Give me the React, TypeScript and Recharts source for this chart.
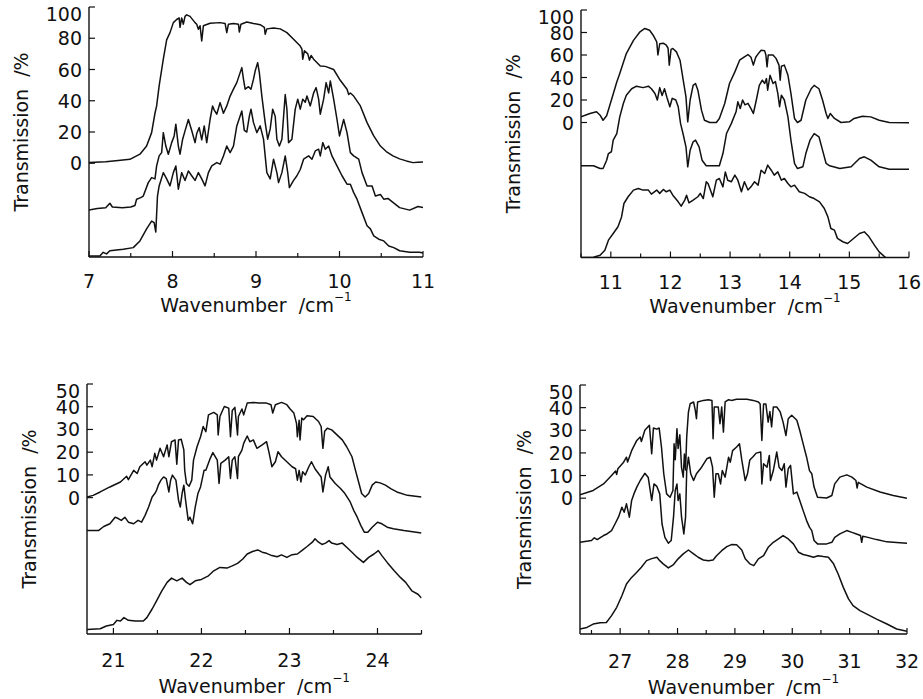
import React from "react";
import { LineChart, Line, XAxis, YAxis, Label } from "recharts";

type Pt = [number, number];

// ---- panel 1 (7-11 cm-1) ----
const p1XTicks = [7, 7.5, 8, 8.5, 9, 9.5, 10, 10.5, 11];
const p1YTicks = [0, 20, 40, 60, 80, 100];
const p1Top: Pt[] = [
  [7.0, 0.5], [7.2, 1], [7.35, 1.8], [7.49, 2.5], [7.61, 5.8], [7.69, 11], [7.75, 19.6], [7.79, 32], [7.81, 36.7],
  [7.84, 49.5], [7.89, 66.6], [7.93, 79], [7.97, 83.6], [8.01, 90], [8.05, 92], [8.08, 93], [8.09, 87], [8.11, 93],
  [8.13, 89], [8.15, 94], [8.17, 95], [8.21, 94], [8.27, 90], [8.29, 89], [8.31, 85.8], [8.33, 88], [8.35, 78.3],
  [8.37, 88], [8.45, 89.6], [8.57, 90], [8.63, 89.5], [8.65, 83.6], [8.67, 89], [8.73, 89.5], [8.79, 89], [8.8, 84],
  [8.82, 89], [8.89, 90.4], [8.97, 89.5], [9.05, 88.7], [9.1, 87], [9.11, 82.6], [9.13, 86], [9.21, 86.6], [9.29, 86],
  [9.37, 83.6], [9.45, 79.4], [9.53, 75], [9.55, 73], [9.56, 66.6], [9.58, 72], [9.62, 70], [9.64, 66], [9.66, 69],
  [9.69, 66.6], [9.77, 62.3], [9.83, 62], [9.93, 60], [10.0, 53.8], [10.09, 47.4], [10.11, 44], [10.13, 45],
  [10.17, 43], [10.25, 36.7], [10.33, 26], [10.41, 17.5], [10.49, 11], [10.56, 7.5], [10.64, 4.7], [10.72, 2.8],
  [10.8, 1.5], [10.88, 0.4], [10.94, 0.6], [11.0, 0.8],
];
const p1Mid: Pt[] = [
  [7.0, -30], [7.1, -29], [7.2, -28.5], [7.25, -25.6], [7.28, -28], [7.4, -28.5], [7.5, -28], [7.55, -27], [7.57, -23],
  [7.62, -22], [7.65, -21], [7.71, -12.4], [7.75, -9.2], [7.79, -10], [7.81, -1.7], [7.84, 4.7], [7.87, 6.8],
  [7.89, 19.6], [7.92, 11], [7.95, 5.8], [7.99, 13.2], [8.02, 17.5], [8.04, 25], [8.07, 11], [8.09, 5.8], [8.12, 15],
  [8.15, 20.7], [8.19, 28], [8.23, 21], [8.27, 13.2], [8.29, 19], [8.32, 22.8], [8.35, 15], [8.38, 23.9], [8.41, 13.2],
  [8.45, 28], [8.48, 36.7], [8.5, 34], [8.53, 31.4], [8.57, 38.8], [8.61, 32], [8.65, 36.7], [8.69, 43], [8.73, 47.4],
  [8.77, 51.6], [8.81, 58], [8.83, 61.2], [8.85, 53.8], [8.87, 47.4], [8.91, 49], [8.94, 47.4], [8.97, 53.8], [8.99, 59],
  [9.02, 64.4], [9.04, 58], [9.07, 43], [9.11, 26], [9.14, 15.4], [9.17, 22], [9.2, 34.6], [9.23, 30], [9.25, 15.4],
  [9.28, 11], [9.31, 15.4], [9.35, 44], [9.37, 34.6], [9.39, 13.2], [9.43, 15.4], [9.47, 34.6], [9.5, 41], [9.53, 34.6],
  [9.56, 41], [9.59, 39], [9.61, 43], [9.65, 36.7], [9.69, 45], [9.72, 48.4], [9.75, 41], [9.77, 31.4], [9.81, 41],
  [9.84, 51.6], [9.87, 45], [9.89, 52.7], [9.93, 41], [9.97, 28], [10.0, 17.5], [10.05, 28], [10.09, 19.6],
  [10.13, 6.8], [10.17, 4.7], [10.23, 2.6], [10.27, -6], [10.33, -14.5], [10.39, -14.5], [10.43, -21], [10.49, -20],
  [10.53, -23], [10.58, -22.5], [10.64, -25], [10.72, -28.4], [10.84, -30], [10.94, -27.7], [11.0, -28.4],
];
const p1Low: Pt[] = [
  [7.0, -59.3], [7.13, -59.3], [7.17, -57], [7.21, -58], [7.25, -56], [7.41, -55], [7.53, -54], [7.61, -49.7],
  [7.69, -42], [7.75, -37], [7.78, -38], [7.8, -44], [7.82, -21], [7.84, -14.5], [7.89, -6], [7.93, -10], [7.97, -14.5],
  [8.01, -6], [8.04, -1.7], [8.07, -16.6], [8.11, -6], [8.15, -11], [8.19, -4.9], [8.23, -8], [8.27, -11], [8.31, -6],
  [8.35, -10], [8.39, -14.5], [8.43, -6], [8.47, -1.7], [8.53, 0.4], [8.57, -0.6], [8.61, 4.7], [8.65, 11], [8.69, 6.8],
  [8.73, 11], [8.77, 23.9], [8.81, 30.3], [8.83, 33.5], [8.86, 21], [8.89, 20], [8.92, 30], [8.94, 34.6], [8.97, 26],
  [9.01, 19.6], [9.05, 23.9], [9.09, 15.4], [9.13, -6], [9.17, -10], [9.21, 2.6], [9.25, -6], [9.27, -12.4], [9.31, -6],
  [9.35, 4.7], [9.38, -6], [9.4, -15.6], [9.45, -11], [9.49, -8], [9.53, -4], [9.57, 2.6], [9.63, 4.7], [9.67, 2.6],
  [9.71, 7.9], [9.75, 9], [9.77, 4.7], [9.8, 13.2], [9.83, 9], [9.87, 11], [9.91, 4.7], [9.97, -1.7], [10.03, -8],
  [10.09, -13.4], [10.13, -13.4], [10.17, -18.8], [10.21, -23], [10.27, -31.6], [10.33, -40], [10.37, -42],
  [10.41, -46.5], [10.47, -48.6], [10.53, -49.7], [10.59, -53], [10.65, -54], [10.72, -56], [10.84, -57], [10.96, -57],
  [11.0, -57.5],
];

// ---- panel 2 (10.5-16 cm-1) ----
const p2XTicks = [10.5, 11, 11.5, 12, 12.5, 13, 13.5, 14, 14.5, 15, 15.5, 16];
const p2YTicks = [0, 20, 40, 60, 80, 100];
const p2Top: Pt[] = [
  [10.5, 5], [10.65, 8], [10.76, 9.5], [10.82, 6.5], [10.87, 2], [10.93, 6], [11.01, 20], [11.1, 36], [11.15, 43.6],
  [11.26, 61.3], [11.38, 73], [11.49, 80.6], [11.57, 83.6], [11.65, 82], [11.71, 77.6], [11.77, 71.7], [11.79, 60],
  [11.82, 70], [11.88, 70.5], [11.93, 68.7], [11.96, 66], [11.98, 51], [12.01, 65], [12.04, 65.8], [12.1, 62.8],
  [12.16, 55.4], [12.18, 49], [12.21, 39], [12.26, 22.8], [12.29, 0.6], [12.33, 20], [12.38, 33], [12.42, 34.7],
  [12.46, 28.7], [12.52, 11], [12.57, 2], [12.66, 0], [12.77, 0], [12.82, 3.6], [12.91, 16.9], [12.99, 34.7],
  [13.08, 45], [13.16, 55.4], [13.24, 58.4], [13.3, 60.4], [13.35, 58], [13.39, 51], [13.43, 58], [13.47, 61],
  [13.52, 64.3], [13.58, 63.7], [13.6, 60], [13.62, 49.5], [13.64, 60], [13.72, 60], [13.77, 57], [13.82, 51],
  [13.84, 37.6], [13.86, 50], [13.91, 51], [13.97, 42], [14.02, 25.8], [14.08, 3.6], [14.13, 0], [14.19, 2], [14.27, 20],
  [14.36, 30], [14.41, 33], [14.49, 30], [14.55, 20], [14.61, 8], [14.64, 3.6], [14.68, 8], [14.75, 3.6], [14.86, 0],
  [15.0, 0.6], [15.08, 3.6], [15.22, 5.6], [15.36, 5], [15.5, 2], [15.67, 0], [16.0, -0.3],
];
const p2Mid: Pt[] = [
  [10.5, -38.5], [10.71, -38.5], [10.82, -40.9], [10.87, -40.9], [10.93, -33.5], [10.96, -27.6], [11.01, -26],
  [11.04, -15.7], [11.1, -9.8], [11.15, 5], [11.21, 16.9], [11.26, 24.3], [11.35, 30], [11.43, 32.3], [11.54, 31],
  [11.63, 32.3], [11.68, 30], [11.74, 25.8], [11.78, 20], [11.82, 31], [11.86, 24], [11.9, 30], [11.94, 22.5],
  [11.99, 14], [12.03, 21.5], [12.09, 20], [12.13, 14], [12.17, -1], [12.21, -9.8], [12.26, -21.6], [12.29, -39.4],
  [12.33, -24.6], [12.38, -17.2], [12.42, -15.7], [12.48, -21.6], [12.53, -33.5], [12.6, -38.5], [12.82, -38.5],
  [12.88, -27.6], [12.94, -9.8], [13.02, -1], [13.1, 9.5], [13.13, 18.4], [13.17, 12.4], [13.21, 20], [13.25, 15.7],
  [13.3, 17], [13.35, 12.4], [13.39, 8], [13.44, 20], [13.49, 33], [13.54, 37.6], [13.58, 34.7], [13.61, 39],
  [13.63, 28.7], [13.67, 42], [13.72, 34.7], [13.76, 36.4], [13.8, 25.8], [13.83, 14], [13.86, 24.3], [13.91, 20],
  [13.97, 5], [14.02, -15.7], [14.08, -36.4], [14.13, -40.9], [14.22, -39.4], [14.27, -27.6], [14.34, -15.7],
  [14.41, -9.8], [14.49, -12.7], [14.55, -24.6], [14.61, -36.4], [14.67, -38.5], [14.84, -40.9], [15.03, -39.4],
  [15.17, -32], [15.25, -30.5], [15.36, -33.5], [15.5, -39.4], [15.67, -41.5], [16.0, -41.5],
];
const p2Low: Pt[] = [
  [10.5, -120], [10.71, -119.8], [10.82, -118], [10.9, -113.5], [10.96, -104.6], [11.04, -98.7], [11.12, -92.7],
  [11.18, -83.9], [11.22, -72], [11.29, -66], [11.38, -60.1], [11.46, -58.7], [11.54, -60.1], [11.63, -60.1],
  [11.68, -63.7], [11.77, -60.1], [11.82, -63], [11.88, -59.5], [11.93, -61.6], [11.99, -60.1], [12.04, -64.6],
  [12.13, -70.5], [12.18, -74.4], [12.24, -69], [12.27, -64.6], [12.31, -71.4], [12.38, -69], [12.46, -66], [12.5, -63],
  [12.55, -67.6], [12.6, -52.7], [12.63, -54.2], [12.67, -60.1], [12.71, -66], [12.77, -51.3], [12.82, -49.8],
  [12.88, -57.2], [12.92, -43.9], [12.96, -51.3], [13.02, -52.7], [13.08, -46.8], [13.13, -51.3], [13.19, -61.6],
  [13.24, -52.7], [13.3, -60], [13.35, -57.2], [13.41, -52.7], [13.47, -55.7], [13.52, -42.4], [13.58, -45.3],
  [13.63, -37.9], [13.69, -42.4], [13.74, -46.8], [13.8, -43.9], [13.86, -51.3], [13.91, -49.8], [13.97, -54.2],
  [14.02, -57.2], [14.08, -55.7], [14.16, -61.6], [14.25, -63], [14.33, -66], [14.41, -67.6], [14.5, -70.5],
  [14.58, -76.4], [14.64, -83.9], [14.69, -94.2], [14.75, -95.7], [14.8, -103], [14.89, -106], [14.97, -107.6],
  [15.05, -104], [15.17, -98.7], [15.25, -97.2], [15.33, -101.6], [15.42, -109], [15.5, -115], [15.58, -118.8],
  [15.61, -120],
];

// ---- panel 3 (20.7-24.5 cm-1) ----
const p3XTicks = [21, 21.5, 22, 22.5, 23, 23.5, 24, 24.5];
const p3YTicks = [0, 10, 20, 30, 40, 50];
const p3Top: Pt[] = [
  [20.7, 0.3], [20.77, 1], [20.85, 2.5], [20.96, 4.7], [21.08, 6.9], [21.15, 9.4], [21.17, 7.9], [21.23, 12],
  [21.27, 10.6], [21.3, 13.6], [21.36, 15.8], [21.38, 14.3], [21.42, 16.5], [21.44, 13.6], [21.47, 19.5], [21.49, 16.5],
  [21.53, 21.7], [21.57, 18], [21.61, 23.2], [21.63, 18], [21.66, 24.6], [21.7, 25.4], [21.72, 14.7], [21.74, 25.4],
  [21.77, 25.7], [21.8, 21], [21.81, 12], [21.83, 6.2], [21.86, 5], [21.89, 7.7], [21.91, 16.5], [21.95, 22.4],
  [21.99, 26.8], [22.02, 31.3], [22.05, 29], [22.08, 36.4], [22.14, 37.5], [22.18, 36.4], [22.19, 27.6], [22.21, 35.7],
  [22.26, 40.1], [22.31, 39.4], [22.33, 26.8], [22.35, 38.3], [22.38, 39.7], [22.41, 27.6], [22.42, 35.7], [22.46, 39],
  [22.48, 36.4], [22.52, 41.6], [22.59, 41.9], [22.65, 41.6], [22.74, 41.6], [22.79, 40.9], [22.81, 37.2], [22.84, 40.9],
  [22.91, 41.9], [22.97, 40.9], [23.01, 38.9], [23.05, 37.2], [23.08, 32.7], [23.09, 26.8], [23.11, 34], [23.12, 25.4],
  [23.14, 35], [23.16, 34.3], [23.2, 36], [23.27, 35.7], [23.33, 33.5], [23.36, 31.3], [23.38, 21.7], [23.4, 29.2],
  [23.43, 30.5], [23.48, 29.8], [23.54, 27.6], [23.6, 25.4], [23.65, 22.4], [23.71, 18], [23.75, 12], [23.79, 6.2],
  [23.82, 1.8], [23.86, 0.3], [23.9, 1.8], [23.94, 5.5], [23.98, 6.9], [24.03, 6.5], [24.09, 5.5], [24.15, 4],
  [24.22, 2.5], [24.34, 1], [24.5, 0.3],
];
const p3Mid: Pt[] = [
  [20.7, -14.5], [20.83, -14.5], [20.89, -12.7], [20.96, -11.5], [21.02, -8.6], [21.06, -9.3], [21.09, -10],
  [21.13, -8.6], [21.17, -10.8], [21.23, -11.5], [21.28, -10], [21.32, -10.8], [21.36, -7.8], [21.4, -4.1], [21.44, 0.3],
  [21.47, 1.8], [21.49, 3.2], [21.51, 5.5], [21.54, 7.7], [21.57, 9.1], [21.6, 8.4], [21.63, 2.5], [21.65, 7.7],
  [21.67, 9.9], [21.71, 7.7], [21.74, -1.2], [21.76, -4.1], [21.78, 1.8], [21.8, 5.5], [21.82, -1.2], [21.85, -10],
  [21.87, -8.6], [21.9, -11.5], [21.93, -4.1], [21.96, 1.8], [21.99, 4.7], [22.03, 12], [22.05, 12], [22.1, 17.3],
  [22.13, 19.8], [22.18, 16.5], [22.2, 6.2], [22.22, 15.1], [22.27, 16.5], [22.31, 18], [22.33, 8.4], [22.35, 16.5],
  [22.38, 18], [22.41, 8.4], [22.42, 18], [22.46, 20.9], [22.48, 23.9], [22.52, 27.1], [22.55, 24.6], [22.59, 25.4],
  [22.63, 21.7], [22.69, 23.2], [22.74, 24.6], [22.77, 19.5], [22.8, 13.6], [22.84, 15.8], [22.87, 20.2], [22.91, 18],
  [22.97, 15.8], [23.03, 13.6], [23.07, 12.7], [23.09, 7.7], [23.11, 12], [23.13, 6.9], [23.15, 11.4], [23.18, 10],
  [23.22, 13.6], [23.25, 15.8], [23.29, 12.7], [23.33, 10.6], [23.36, 9.1], [23.38, 2.5], [23.41, 9.9], [23.44, 13.6],
  [23.46, 9.1], [23.52, 6.2], [23.58, 4], [23.63, 1.8], [23.69, -1.9], [23.73, -5.6], [23.77, -8.6], [23.81, -12.2],
  [23.85, -15.2], [23.89, -15.2], [23.94, -13], [24.0, -10.8], [24.05, -11.5], [24.11, -13], [24.18, -13.7],
  [24.3, -14.5], [24.5, -15.6],
];
const p3Low: Pt[] = [
  [20.7, -58], [20.85, -57.7], [20.92, -56.5], [21.0, -55.8], [21.04, -54], [21.08, -54.3], [21.12, -52.8], [21.17, -54],
  [21.25, -54.3], [21.34, -54.3], [21.38, -52.8], [21.44, -49], [21.49, -45.4], [21.55, -41], [21.61, -37.3],
  [21.66, -35.4], [21.72, -36.6], [21.78, -35.4], [21.83, -37.3], [21.87, -38.3], [21.93, -36.6], [22.0, -36],
  [22.08, -34.4], [22.14, -32.2], [22.21, -30.7], [22.29, -31], [22.35, -30], [22.41, -28.9], [22.47, -27],
  [22.52, -24.8], [22.58, -23.7], [22.64, -23], [22.69, -24], [22.74, -24.5], [22.8, -25.5], [22.86, -26],
  [22.91, -25.2], [22.97, -26.3], [23.03, -25.1], [23.09, -24.8], [23.14, -23.3], [23.2, -21.5], [23.26, -19.6],
  [23.29, -18.1], [23.33, -19.6], [23.37, -20.6], [23.41, -20], [23.45, -18.9], [23.48, -20], [23.54, -20.6],
  [23.6, -20], [23.65, -21.8], [23.71, -24], [23.77, -26.3], [23.84, -28.5], [23.9, -26.3], [23.96, -24.8],
  [24.01, -23.3], [24.05, -25.5], [24.11, -28.5], [24.19, -32.2], [24.26, -35.1], [24.32, -37.3], [24.39, -41],
  [24.46, -42.5], [24.5, -44.2],
];

// ---- panel 4 (26.3-32 cm-1) ----
const p4XTicks = [26.5, 27, 27.5, 28, 28.5, 29, 29.5, 30, 30.5, 31, 31.5, 32];
const p4YTicks = [0, 10, 20, 30, 40, 50];
const p4Top: Pt[] = [
  [26.3, 1.5], [26.53, 3.4], [26.71, 6.3], [26.85, 10], [26.92, 12], [26.94, 10.5], [26.96, 13], [27.06, 15.9],
  [27.11, 18.1], [27.13, 16], [27.2, 21], [27.29, 25.5], [27.35, 27], [27.37, 25], [27.43, 30], [27.51, 32.2],
  [27.55, 19.6], [27.58, 31], [27.64, 30.5], [27.68, 31], [27.72, 22.6], [27.76, 10.8], [27.81, 1.9], [27.87, 0.4],
  [27.92, 3.4], [27.94, 24], [27.96, 17], [27.99, 30.7], [28.01, 22], [28.04, 28], [28.07, 13.5], [28.1, 9.3],
  [28.12, 19.5], [28.14, 12.5], [28.16, 27], [28.19, 38], [28.22, 41.7], [28.28, 42.5], [28.31, 38.8], [28.33, 35.1],
  [28.35, 42.5], [28.45, 43.2], [28.54, 43.5], [28.6, 43.2], [28.62, 26.3], [28.64, 40.3], [28.71, 40.3], [28.74, 32.9],
  [28.77, 40.3], [28.8, 29.2], [28.83, 42.5], [28.89, 43.5], [28.94, 43.2], [29.03, 43.7], [29.21, 43.7], [29.32, 43.2],
  [29.41, 42.5], [29.44, 41.6], [29.47, 25.5], [29.5, 41.6], [29.54, 41.6], [29.58, 33.6], [29.61, 38.3], [29.64, 31.5],
  [29.67, 40.3], [29.73, 40.3], [29.79, 38.1], [29.84, 33.6], [29.89, 27.7], [29.93, 35.1], [29.99, 36.6], [30.08, 34.4],
  [30.13, 30], [30.19, 24], [30.25, 18.1], [30.3, 12.2], [30.34, 10.8], [30.38, 4.9], [30.44, 0.4], [30.6, 0.1],
  [30.69, 1.2], [30.74, 6.3], [30.83, 9.3], [30.95, 10.3], [31.04, 9.3], [31.11, 7.8], [31.13, 4.5], [31.15, 7],
  [31.3, 4.9], [31.53, 2.7], [31.76, 1.2], [32.0, 0],
];
const p4Mid: Pt[] = [
  [26.3, -19.5], [26.5, -18.7], [26.55, -17.5], [26.6, -18.3], [26.71, -16.5], [26.77, -15.8], [26.85, -14.3],
  [26.91, -11.4], [26.97, -8.4], [27.03, -4], [27.07, -6.2], [27.11, -2.5], [27.16, -8.4], [27.2, -1], [27.24, 1.9],
  [27.29, 4.9], [27.35, 7.8], [27.43, 11], [27.49, 9.1], [27.55, -1], [27.59, 6.3], [27.64, 5.2], [27.69, 1.9],
  [27.73, -11.4], [27.78, -17.3], [27.84, -19.9], [27.89, -18.7], [27.93, -8.4], [27.96, 3.4], [27.99, 6.3],
  [28.01, -1], [28.04, 1.9], [28.07, -8.4], [28.11, -15.8], [28.14, -8.4], [28.16, 12.2], [28.19, 18.1], [28.23, 10.8],
  [28.28, 7.8], [28.33, 10.8], [28.42, 13.7], [28.51, 17.4], [28.57, 18.1], [28.61, 13.7], [28.64, 0.4], [28.67, 10.8],
  [28.71, 10.8], [28.75, 6.3], [28.78, 12.2], [28.83, 9.3], [28.89, 18.1], [28.92, 15.9], [28.96, 21], [29.03, 22.6],
  [29.08, 24], [29.12, 16.9], [29.18, 7.8], [29.22, 10.8], [29.26, 16.9], [29.32, 18.4], [29.37, 19.9], [29.45, 20.4],
  [29.47, 6.3], [29.5, 15.2], [29.56, 13.7], [29.6, 18.9], [29.62, 7.8], [29.67, 12.2], [29.73, 20.4], [29.77, 13.7],
  [29.82, 12.2], [29.86, 15.2], [29.89, 4.9], [29.93, 13], [29.97, 14.5], [30.02, 1.9], [30.08, 2.7], [30.13, -1],
  [30.19, -5.5], [30.25, -9.9], [30.3, -12.8], [30.34, -14.3], [30.38, -18.7], [30.44, -20.2], [30.6, -20.2],
  [30.69, -19.5], [30.74, -17.3], [30.83, -15.8], [30.95, -14.3], [31.04, -15.1], [31.12, -15.8], [31.19, -16.5],
  [31.21, -19.5], [31.23, -16.8], [31.3, -17.2], [31.47, -18.3], [31.65, -19.3], [31.76, -19.5], [32.0, -19.9],
];
const p4Low: Pt[] = [
  [26.3, -57.8], [26.42, -57.1], [26.53, -55.6], [26.65, -55], [26.76, -54.9], [26.85, -51.9], [26.94, -48.2],
  [27.03, -43.1], [27.11, -37.9], [27.2, -35], [27.29, -32.7], [27.37, -30.5], [27.46, -27.6], [27.55, -26.7],
  [27.64, -26.1], [27.69, -27.6], [27.75, -29], [27.84, -30.8], [27.93, -29.3], [28.01, -26.8], [28.1, -24.6],
  [28.19, -22.9], [28.28, -24.6], [28.36, -26.1], [28.45, -27.3], [28.54, -27.6], [28.62, -27.3], [28.68, -25.4],
  [28.77, -23.2], [28.86, -21.4], [28.94, -20.5], [29.03, -20.6], [29.12, -22.9], [29.18, -26.8], [29.26, -29],
  [29.33, -29.8], [29.41, -26.8], [29.5, -25.4], [29.58, -21.7], [29.67, -19.5], [29.76, -18], [29.84, -16.5],
  [29.93, -18], [30.02, -20.2], [30.11, -23.9], [30.19, -24.9], [30.28, -25.4], [30.37, -26.1], [30.45, -25.4],
  [30.54, -25.8], [30.63, -26.1], [30.72, -29], [30.8, -33.5], [30.89, -39.4], [30.98, -44.5], [31.06, -47.5],
  [31.18, -49.7], [31.3, -51.2], [31.47, -53.4], [31.65, -55.6], [31.82, -57.8], [32.0, -58.8],
];

const FONT = "'DejaVu Sans', 'Liberation Sans', sans-serif";
const INK = "#111";
const FS = 19;

// room around each plot box inside its chart svg
const ML = 90;
const MT = 12;
const MR = 16;
const MB = 70;

type PanelCfg = {
  left: number;
  top: number;
  right: number;
  bottom: number;
  xDomain: [number, number];
  xTicks: number[];
  yDomain: [number, number];
  yTicks: number[];
  curves: Pt[][];
  yTitleGap: number;
  xTickGap: number;
  xTitleGap: number;
};

const panels: PanelCfg[] = [
  {
    left: 89, top: 7, right: 423, bottom: 257,
    xDomain: [7, 11], xTicks: p1XTicks, yDomain: [-60, 100], yTicks: p1YTicks,
    curves: [p1Top, p1Mid, p1Low], yTitleGap: 68, xTickGap: 24, xTitleGap: 48,
  },
  {
    left: 581, top: 9.5, right: 909, bottom: 257,
    xDomain: [10.5, 16], xTicks: p2XTicks, yDomain: [-120, 100], yTicks: p2YTicks,
    curves: [p2Top, p2Mid, p2Low], yTitleGap: 68, xTickGap: 24, xTitleGap: 48,
  },
  {
    left: 87, top: 384, right: 421.5, bottom: 634,
    xDomain: [20.7, 24.5], xTicks: p3XTicks, yDomain: [-60, 50], yTicks: p3YTicks,
    curves: [p3Top, p3Mid, p3Low], yTitleGap: 58, xTickGap: 26, xTitleGap: 52,
  },
  {
    left: 580, top: 385, right: 907, bottom: 634,
    xDomain: [26.3, 32], xTicks: p4XTicks, yDomain: [-60, 50], yTicks: p4YTicks,
    curves: [p4Top, p4Mid, p4Low], yTitleGap: 56, xTickGap: 27, xTitleGap: 53,
  },
];

function isMajor(v: number) {
  return Math.abs(v - Math.round(v)) < 1e-6;
}

function BottomTick(props: any) {
  const { x, y, payload, gap } = props;
  const v = payload.value;
  const major = isMajor(v);
  return (
    <g>
      <line x1={x} x2={x} y1={y} y2={y - (major ? 6 : 4)} stroke={INK} strokeWidth={1.2} />
      {major && (
        <text x={x} y={y + gap} textAnchor="middle" dominantBaseline="central" fontFamily={FONT} fontSize={FS} fill={INK}>
          {v}
        </text>
      )}
    </g>
  );
}

function TopTick(props: any) {
  const { x, y, payload } = props;
  const major = isMajor(payload.value);
  return <line x1={x} x2={x} y1={y} y2={y + (major ? 6 : 4)} stroke={INK} strokeWidth={1.2} />;
}

function LeftTick(props: any) {
  const { x, y, payload, topValue } = props;
  const v = payload.value;
  // the top label sits a little below its tick, like the original
  const shift = v === topValue ? 7 : 0;
  return (
    <g>
      <line x1={x} x2={x + 6} y1={y} y2={y} stroke={INK} strokeWidth={1.2} />
      <text x={x - 7} y={y + shift} textAnchor="end" dominantBaseline="central" fontFamily={FONT} fontSize={FS} fill={INK}>
        {v}
      </text>
    </g>
  );
}

function Panel({ p }: { p: PanelCfg }) {
  const plotW = p.right - p.left;
  const plotH = p.bottom - p.top;
  const w = plotW + ML + MR;
  const h = plotH + MT + MB;
  const cx = ML + plotW / 2;
  const cy = MT + plotH / 2;

  return (
    <div style={{ position: "absolute", left: p.left - ML, top: p.top - MT }}>
      <LineChart width={w} height={h} margin={{ top: MT, right: MR, bottom: 0, left: 0 }}>
        <XAxis
          xAxisId="b"
          type="number"
          dataKey="x"
          domain={p.xDomain}
          ticks={p.xTicks}
          interval={0}
          allowDataOverflow
          height={MB}
          tickSize={0}
          tickMargin={0}
          tickLine={false}
          axisLine={{ stroke: INK, strokeWidth: 1.4 }}
          tick={<BottomTick gap={p.xTickGap} />}
        >
          <Label
            content={() => (
              <text x={cx} y={MT + plotH + p.xTitleGap} textAnchor="middle" dominantBaseline="central" fontFamily={FONT} fontSize={FS} fill={INK}>
                Wavenumber
                <tspan dx={12}>/cm</tspan>
                <tspan dy={-8} fontSize={12}>−1</tspan>
              </text>
            )}
          />
        </XAxis>
        <XAxis
          xAxisId="t"
          orientation="top"
          type="number"
          dataKey="x"
          domain={p.xDomain}
          ticks={p.xTicks}
          interval={0}
          allowDataOverflow
          height={0}
          tickSize={0}
          tickMargin={0}
          tickLine={false}
          axisLine={{ stroke: INK, strokeWidth: 1.4 }}
          tick={<TopTick />}
        />
        <YAxis
          yAxisId="l"
          type="number"
          domain={p.yDomain}
          ticks={p.yTicks}
          interval={0}
          allowDataOverflow
          width={ML}
          tickSize={0}
          tickMargin={0}
          tickLine={false}
          axisLine={{ stroke: INK, strokeWidth: 1.4 }}
          tick={<LeftTick topValue={p.yTicks[p.yTicks.length - 1]} />}
        >
          <Label
            content={() => (
              <text
                x={ML - p.yTitleGap}
                y={cy}
                transform={`rotate(-90 ${ML - p.yTitleGap} ${cy})`}
                textAnchor="middle"
                dominantBaseline="central"
                fontFamily={FONT}
                fontSize={FS}
                fill={INK}
              >
                Transmission
                <tspan dx={12}>/%</tspan>
              </text>
            )}
          />
        </YAxis>
        <YAxis
          yAxisId="r"
          orientation="right"
          type="number"
          domain={p.yDomain}
          allowDataOverflow
          width={0}
          tick={false}
          tickLine={false}
          axisLine={{ stroke: INK, strokeWidth: 1.4 }}
        />
        {p.curves.map((c, i) => (
          <Line
            key={i}
            xAxisId="b"
            yAxisId="l"
            data={c.map(([x, y]) => ({ x, y }))}
            dataKey="y"
            type="linear"
            dot={false}
            activeDot={false}
            stroke={INK}
            strokeWidth={1.5}
            strokeLinejoin="round"
            isAnimationActive={false}
          />
        ))}
      </LineChart>
    </div>
  );
}

export default function App() {
  return (
    <div style={{ position: "absolute", left: 0, top: 0, width: 923, height: 699, background: "#fff" }}>
      {panels.map((p, i) => (
        <Panel key={i} p={p} />
      ))}
    </div>
  );
}
